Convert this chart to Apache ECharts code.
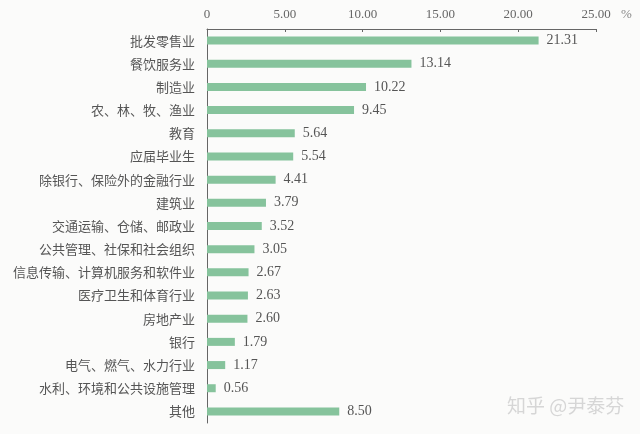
<!DOCTYPE html>
<html><head><meta charset="utf-8">
<script src="https://cdn.jsdelivr.net/npm/echarts@6/dist/echarts.min.js"></script>
<style>html,body{margin:0;padding:0;background:#fbfbfa}#c{width:640px;height:434px}</style>
</head><body><div id="c"></div>
<script>
const categories = ['批发零售业','餐饮服务业','制造业','农、林、牧、渔业','教育','应届毕业生','除银行、保险外的金融行业','建筑业','交通运输、仓储、邮政业','公共管理、社保和社会组织','信息传输、计算机服务和软件业','医疗卫生和体育行业','房地产业','银行','电气、燃气、水力行业','水利、环境和公共设施管理','其他'];
const values = [21.31,13.14,10.22,9.45,5.64,5.54,4.41,3.79,3.52,3.05,2.67,2.63,2.60,1.79,1.17,0.56,8.50];
const tickLabels = ['0','5.00','10.00','15.00','20.00','25.00'];

const chart = echarts.init(document.getElementById('c'));
chart.setOption({
  backgroundColor: '#fbfbfa',
  animation: false,
  grid: {left: 207, right: 44, top: 29, height: 394, containLabel: false},
  xAxis: {
    type: 'value', position: 'top', min: 0, max: 25, interval: 5,
    splitLine: {show: false},
    axisLine: {show: true, lineStyle: {color: '#666', width: 1}},
    axisTick: {show: true, inside: true, length: 3, lineStyle: {color: '#666'}},
    axisLabel: {
      margin: 8, color: '#666', fontSize: 13, fontFamily: 'Liberation Serif',
      formatter: v => tickLabels[Math.round(v / 5)]
    }
  },
  yAxis: {
    type: 'category', data: categories, inverse: true,
    axisLine: {show: true, lineStyle: {color: '#666', width: 1}},
    axisTick: {show: false},
    axisLabel: {margin: 12, color: '#555', fontSize: 13, fontFamily: 'Noto Sans CJK SC'}
  },
  graphic: [
    {type: 'text', left: 621, top: 8, style: {text: '%', fill: '#888', font: '13px Liberation Serif'}},
    {type: 'text', left: 507, top: 396, style: {text: '知乎 @尹泰芬', fill: '#d6d6d6', font: '19px Noto Sans CJK SC'}}
  ],
  series: [{
    type: 'bar', data: values, barWidth: 8,
    itemStyle: {color: '#86c39c'},
    label: {
      show: true, position: 'right', distance: 8, color: '#555', fontSize: 14,
      fontFamily: 'Liberation Serif', formatter: p => p.value.toFixed(2)
    }
  }]
});
</script></body></html>
